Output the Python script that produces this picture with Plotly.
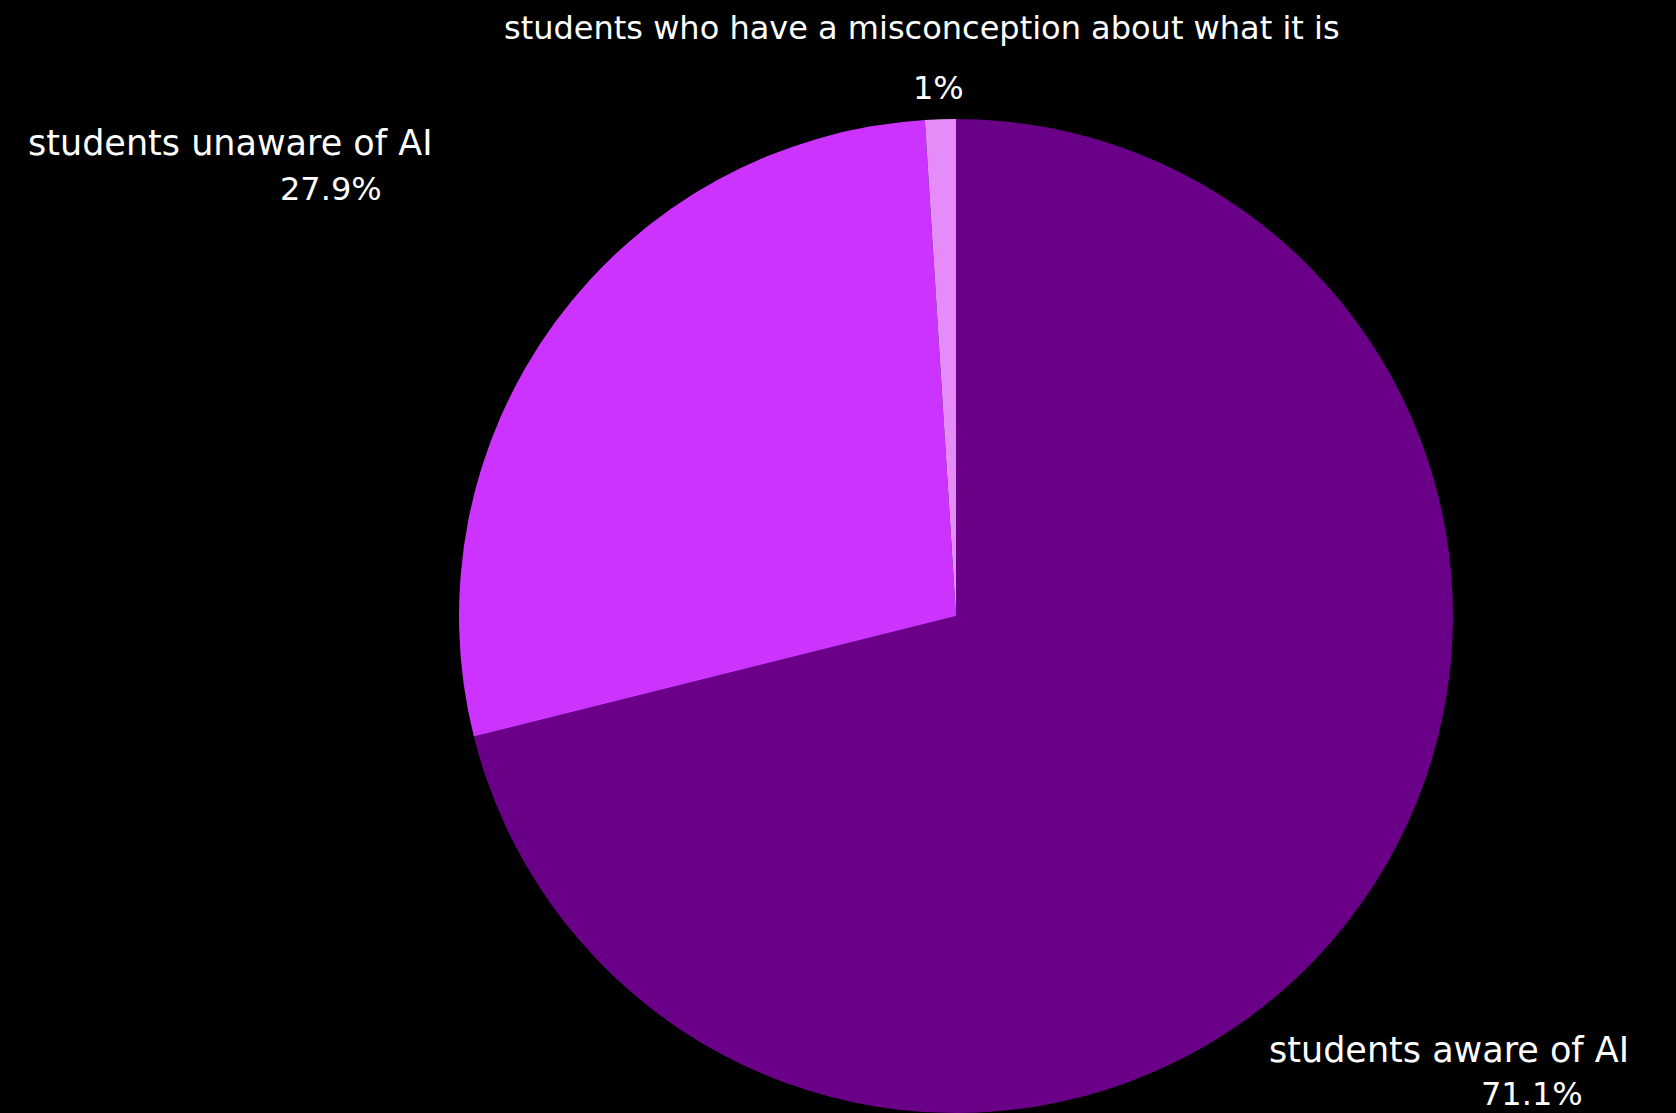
import plotly.graph_objects as go

labels = ["students aware of AI", "students unaware of AI", "students who have a misconception about what it is"]
values = [71.1, 27.9, 1.0]
colors = ["#690087", "#cc33ff", "#e58cf8"]

W, H = 1676, 1113
total = sum(values)
percents = ["{:.3g}%".format(v / total * 100) for v in values]

fig = go.Figure(go.Pie(
    labels=labels,
    values=values,
    marker=dict(colors=colors, line=dict(width=0)),
    textinfo="none",
    sort=True,
    direction="clockwise",
    rotation=0,
    automargin=False,
    showlegend=False,
    hoverinfo="label+percent",
    domain=dict(x=[0.2, 0.9408], y=[0, 994 / H]),
))

# label placement (pixel centres) for each slice: (label x, label y, pct x, pct y, label size)
placement = [
    (1449, 1050, 1532, 1094, 35),
    (230, 143, 331, 189, 35),
    (922, 28, 938, 88, 32),
]
font_family = "Tahoma, Verdana, DejaVu Sans, sans-serif"
annotations = []
for lab, pct, (lx, ly, px, py, fs) in zip(labels, percents, placement):
    annotations.append(dict(
        text=lab, x=lx / W, y=1 - ly / H, xref="paper", yref="paper",
        xanchor="center", yanchor="middle", showarrow=False,
        font=dict(color="white", size=fs, family=font_family),
    ))
    annotations.append(dict(
        text=pct, x=px / W, y=1 - py / H, xref="paper", yref="paper",
        xanchor="center", yanchor="middle", showarrow=False,
        font=dict(color="white", size=32, family=font_family),
    ))

fig.update_layout(
    width=W, height=H,
    paper_bgcolor="black", plot_bgcolor="black",
    margin=dict(l=0, r=0, t=0, b=0),
    annotations=annotations,
)
fig.write_html(
    "out.html",
    config={"displayModeBar": False},
    post_script="document.body.style.margin='0';document.body.style.background='black';document.body.style.overflow='hidden';",
)
